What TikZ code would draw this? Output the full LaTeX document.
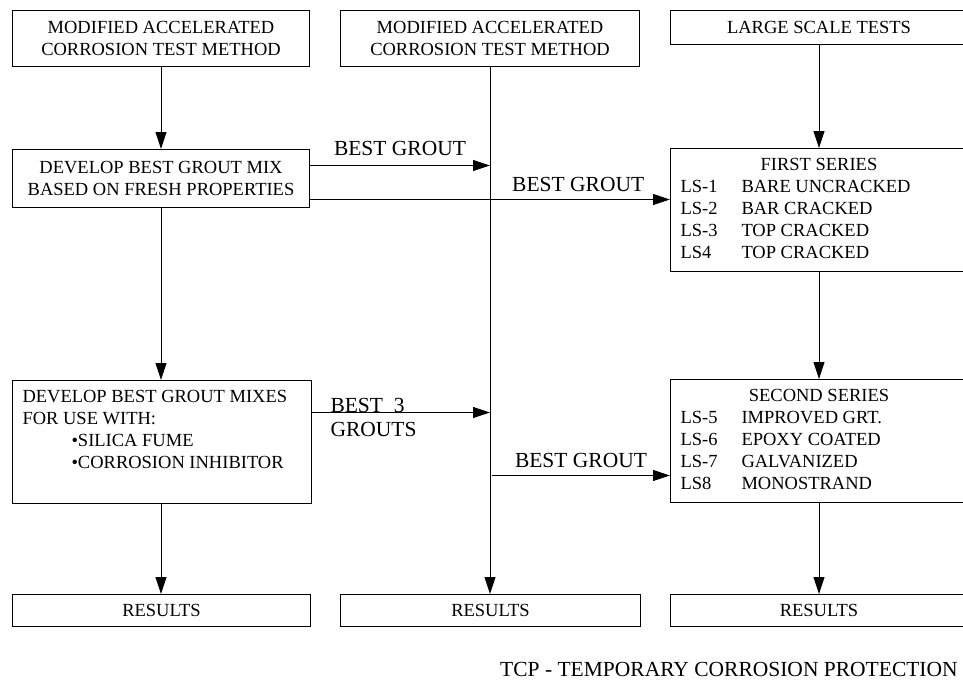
\documentclass[tikz,border=0pt]{standalone}
\usepackage{fontspec}
\setmainfont{Liberation Serif}
\usepackage{tikz}
\usetikzlibrary{arrows.meta,positioning}

\begin{document}
\begin{tikzpicture}[
  x=1pt, y=-1pt,
  box/.style={rectangle, draw, line width=1pt, minimum width=297pt, inner xsep=10pt, inner ysep=0pt, align=center, font=\fontsize{18.5}{22}\selectfont},
  lbl/.style={inner sep=0pt, font=\fontsize{21.5}{24}\selectfont},
  arr/.style={-{Triangle[length=17pt, width=11pt]}, line width=1pt}
]
  \useasboundingbox (0,0) rectangle (963,681);

  % top row
  \node[box, anchor=north west, minimum height=56pt] (mcm1) at (12,10) {MODIFIED ACCELERATED\\CORROSION TEST METHOD};
  \node[box, anchor=north west, minimum height=56pt, minimum width=299pt] (mcm2) at (340,10) {MODIFIED ACCELERATED\\CORROSION TEST METHOD};
  \node[box, anchor=north west, minimum height=34pt] (lst) at (670,10) {LARGE SCALE TESTS};

  % left column
  \node[box, below=82pt of mcm1, minimum height=58pt] (grout) {DEVELOP BEST GROUT MIX\\BASED ON FRESH PROPERTIES};
  \node[box, anchor=north west, minimum height=123pt, minimum width=299pt] (mixes) at (12,380) {%
    \begin{tabular}{@{}p{279pt}@{}}
      DEVELOP BEST GROUT MIXES\\
      FOR USE WITH:\\
      \hspace*{49pt}•SILICA FUME\\
      \hspace*{49pt}•CORROSION INHIBITOR\\
      \\
    \end{tabular}};

  % right column
  \node[box, below=103pt of lst, minimum height=123pt] (series1) {%
    \begin{tabular}{@{}p{61pt}@{}p{216pt}@{}}
      \multicolumn{2}{@{}c@{}}{FIRST SERIES}\\
      LS-1 & BARE UNCRACKED\\
      LS-2 & BAR CRACKED\\
      LS-3 & TOP CRACKED\\
      LS4  & TOP CRACKED\\
    \end{tabular}};
  \node[box, below=107pt of series1, minimum height=123pt] (series2) {%
    \begin{tabular}{@{}p{61pt}@{}p{216pt}@{}}
      \multicolumn{2}{@{}c@{}}{SECOND SERIES}\\
      LS-5 & IMPROVED GRT.\\
      LS-6 & EPOXY COATED\\
      LS-7 & GALVANIZED\\
      LS8  & MONOSTRAND\\
    \end{tabular}};

  % results
  \node[box, anchor=north west, minimum height=32pt, minimum width=298pt] (res1) at (12,594) {RESULTS};
  \node[box, anchor=north west, minimum height=32pt, minimum width=300pt] (res2) at (340,594) {RESULTS};
  \node[box, anchor=north west, minimum height=32pt] (res3) at (670,594) {RESULTS};

  \node[lbl, anchor=base west] (tcp) at (500,676) {TCP - TEMPORARY CORROSION PROTECTION};

  % vertical flow
  \draw[arr] (mcm1) -- (grout);
  \draw[arr] (grout) -- (grout |- mixes.north);
  \draw[arr] (grout |- mixes.south) -- (grout |- res1.north);
  \draw[arr] (mcm2.south) -- (mcm2.south |- res2.north);
  \draw[arr] (lst) -- (series1);
  \draw[arr] (series1) -- (series2);
  \draw[arr] (series2) -- (res3);

  % grout transfers
  \coordinate (g1) at ([yshift=13pt]grout.east);
  \coordinate (g2) at ([yshift=-21pt]grout.east);
  \coordinate (m1) at ([yshift=29.5pt]mixes.east);
  \coordinate (s2) at ([yshift=-34.5pt]series2.west);
  \draw[arr] (g1) -- node[lbl, above=9pt] (bg1) {BEST GROUT} (g1 -| mcm2.south);
  \draw[arr] (g2) -- node[lbl, above=7pt, pos=0.745] (bg2) {BEST GROUT} (g2 -| series1.west);
  \draw[arr] (m1) node[lbl, anchor=north west, align=left, xshift=18pt, yshift=15pt] (b3) {BEST\ \ 3\\GROUTS} -- (m1 -| mcm2.south);
  \draw[arr] ([xshift=2pt]s2 -| mcm2.south) -- node[lbl, above=7pt] (bg4) {BEST GROUT} (s2);
\end{tikzpicture}
\end{document}
